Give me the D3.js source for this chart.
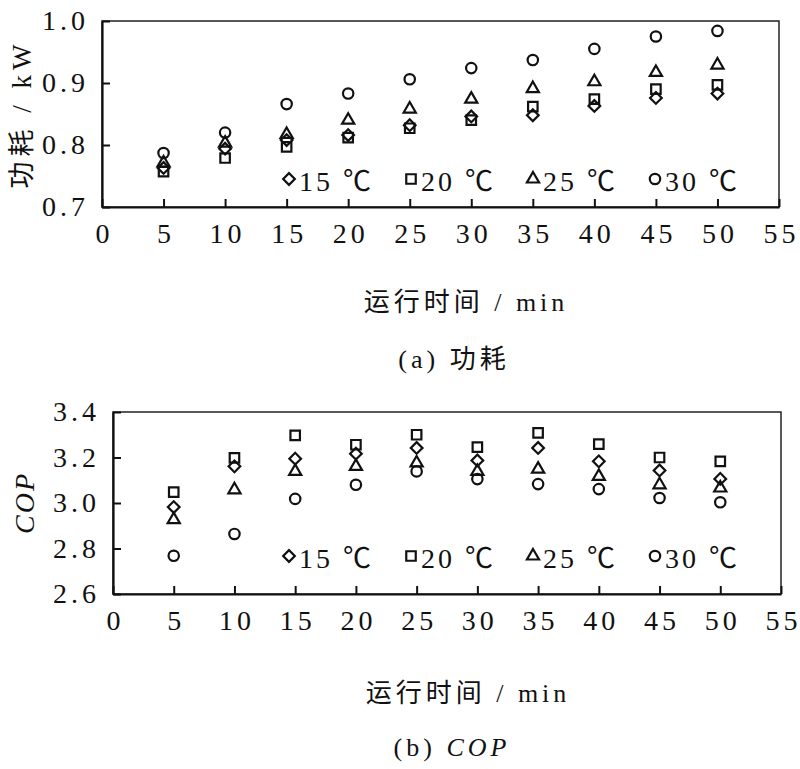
<!DOCTYPE html>
<html>
<head>
<meta charset="utf-8">
<script src="https://cdn.jsdelivr.net/npm/d3@7"></script>
<style>
  body { margin: 0; background: #fff; }
  svg { display: block; }
</style>
</head>
<body>
<script>
// run time (min)
const times = [5, 10, 15, 20, 25, 30, 35, 40, 45, 50];
const seriesNames = ["15 ℃", "20 ℃", "25 ℃", "30 ℃"];

// (a) power consumption, kW
const power15 = [0.763, 0.794, 0.808, 0.816, 0.832, 0.846, 0.848, 0.863, 0.876, 0.883];
const power20 = [0.757, 0.779, 0.797, 0.812, 0.827, 0.840, 0.862, 0.874, 0.890, 0.897];
const power25 = [0.771, 0.803, 0.817, 0.840, 0.858, 0.874, 0.891, 0.902, 0.917, 0.929];
const power30 = [0.787, 0.820, 0.866, 0.883, 0.906, 0.924, 0.937, 0.955, 0.975, 0.984];

// (b) COP
const cop15 = [2.982, 3.161, 3.195, 3.217, 3.242, 3.187, 3.242, 3.183, 3.143, 3.106];
const cop20 = [3.048, 3.198, 3.297, 3.256, 3.300, 3.246, 3.308, 3.259, 3.200, 3.183];
const cop25 = [2.927, 3.058, 3.139, 3.161, 3.176, 3.139, 3.149, 3.117, 3.080, 3.066];
const cop30 = [2.768, 2.864, 3.018, 3.080, 3.139, 3.105, 3.083, 3.061, 3.022, 3.003];

const xTicks = [0, 5, 10, 15, 20, 25, 30, 35, 40, 45, 50, 55];
const powerTicks = [0.7, 0.8, 0.9, 1.0];
const copTicks = [2.6, 2.8, 3.0, 3.2, 3.4];

const FONT = '"Liberation Serif", "Noto Sans CJK SC", serif';
const width = 800, height = 769;
let svg = d3.select("body").append("svg")
    .attr("width", width).attr("height", height)
    .attr("viewBox", "0 0 " + width + " " + height)
    .attr("font-family", FONT);

// diamond = rotated square, then square, triangle, circle
const shapes = [
    {type: d3.symbolSquare, size: 68, rotate: 45},
    {type: d3.symbolSquare, size: 90, rotate: 0},
    {type: d3.symbolTriangle, size: 64, rotate: 0},
    {type: d3.symbolCircle, size: 85, rotate: 0}
];

function drawMarker(g, i, x, y) {
    let s = shapes[i];
    g.append("path")
        .attr("d", d3.symbol().type(s.type).size(s.size)())
        .attr("transform", `translate(${x},${y}) rotate(${s.rotate})`)
        .attr("fill", "none")
        .attr("stroke", "#111")
        .attr("stroke-width", 2.2);
}

function label(g, size, ls) {
    return g.append("text")
        .attr("font-family", FONT)
        .attr("font-size", size)
        .attr("letter-spacing", ls)
        .attr("fill", "#111");
}

function panel(opts) {
    let x = d3.scaleLinear().domain([0, 55]).range([opts.left, opts.right]);
    let y = d3.scaleLinear().domain(opts.yDomain).range([opts.bottom, opts.top]);

    let g = svg.append("g");

    // frame
    g.append("rect")
        .attr("x", opts.left).attr("y", opts.top)
        .attr("width", opts.right - opts.left).attr("height", opts.bottom - opts.top)
        .attr("fill", "none").attr("stroke", "#222").attr("stroke-width", 1.5);

    let gx = g.append("g")
        .attr("transform", `translate(0,${opts.bottom})`)
        .call(d3.axisBottom(x).tickValues(xTicks).tickSizeInner(-8).tickSizeOuter(0).tickPadding(16));
    let gy = g.append("g")
        .attr("transform", `translate(${opts.left},0)`)
        .call(d3.axisLeft(y).tickValues(opts.yTicks).tickFormat(d3.format(".1f"))
            .tickSizeInner(-8).tickSizeOuter(0).tickPadding(13));

    [gx, gy].forEach(a => {
        a.attr("font-family", FONT).attr("font-size", 28);
        a.select(".domain").attr("stroke", "#111").attr("stroke-width", 2.2);
        a.selectAll(".tick line").attr("stroke", "#111").attr("stroke-width", 2);
        a.selectAll(".tick text")
            .attr("letter-spacing", 4)
            .attr("fill", "#111");
    });
    gx.selectAll(".tick text").attr("dx", 2);

    // points
    opts.series.forEach((vals, i) => {
        vals.forEach((v, k) => drawMarker(g, i, x(times[k]), y(v)));
    });

    // legend
    seriesNames.forEach((name, i) => {
        let lx = 289 + i * 122;
        drawMarker(g, i, lx, opts.legendY);
        label(g, 28, 3)
            .attr("x", lx + 10).attr("y", opts.legendY + 12)
            .text(name);
    });

    // y title
    let yt = label(g, 27, 5)
        .attr("transform", `translate(${opts.yTitleX},${(opts.top + opts.bottom) / 2}) rotate(-90)`)
        .attr("text-anchor", "middle");
    opts.yTitle(yt);

    // x title and caption
    label(g, 26, 4)
        .attr("x", opts.xTitleX).attr("y", opts.xTitleY)
        .attr("text-anchor", "middle")
        .text("运行时间 / min");

    let cap = label(g, 26, 4)
        .attr("x", opts.capX).attr("y", opts.capY)
        .attr("text-anchor", "middle");
    opts.caption(cap);
}

panel({
    left: 102, right: 779, top: 21, bottom: 207,
    yDomain: [0.7, 1.0], yTicks: powerTicks,
    series: [power15, power20, power25, power30],
    legendY: 179,
    yTitleX: 31,
    yTitle: t => t.text("功耗 / kW"),
    xTitleX: 466, xTitleY: 311,
    capX: 454, capY: 368,
    caption: t => t.text("(a) 功耗")
});

panel({
    left: 113, right: 781, top: 412, bottom: 594,
    yDomain: [2.6, 3.4], yTicks: copTicks,
    series: [cop15, cop20, cop25, cop30],
    legendY: 556,
    yTitleX: 34,
    yTitle: t => t.attr("letter-spacing", 2).attr("font-size", 28)
        .append("tspan").attr("font-style", "italic").text("COP"),
    xTitleX: 468, xTitleY: 702,
    capX: 452, capY: 756,
    caption: t => {
        t.append("tspan").text("(b) ");
        t.append("tspan").attr("font-style", "italic").text("COP");
    }
});
</script>
</body>
</html>
